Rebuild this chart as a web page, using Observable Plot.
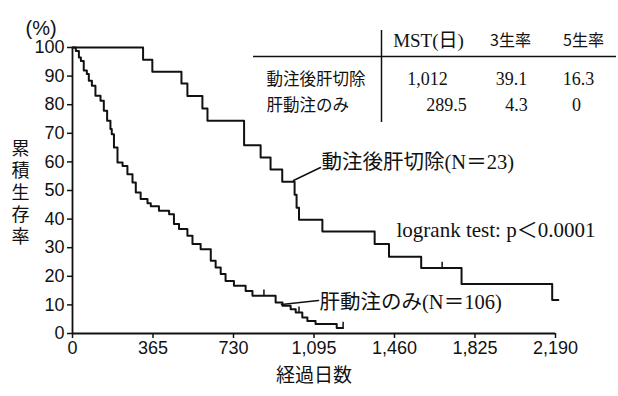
<!DOCTYPE html>
<html><head><meta charset="utf-8">
<script src="https://cdn.jsdelivr.net/npm/d3@7"></script>
<script src="https://cdn.jsdelivr.net/npm/@observablehq/plot@0.6"></script>
<style>body{margin:0;background:#fff}</style>
</head><body><div id="chart"></div>
<script>
// ---- data ----
const xTicks = [0, 365, 730, 1095, 1460, 1825, 2190];
const yTicks = [0, 10, 20, 30, 40, 50, 60, 70, 80, 90, 100];

// 動注後肝切除 (N=23)
const resDays = [0, 320, 362, 494, 521, 589, 612, 778, 853, 898, 951, 1007, 1016, 1027, 1133, 1370, 1435, 1581, 1764, 2175, 2203];
const resSurv = [100, 95.7, 91.5, 87.4, 83.0, 78.7, 74.4, 65.8, 61.5, 57.3, 53.1, 48.5, 44.0, 39.8, 35.7, 31.3, 26.8, 22.9, 17.3, 11.7, 11.7];
const resCensorDays = [1676];
const resCensorSurv = [22.9];

// 肝動注のみ (N=106)
const hepDays = [0, 15, 29, 38, 51, 65, 74, 88, 104, 127, 142, 157, 172, 178, 188, 204, 227, 249, 272, 287, 309, 340, 355, 392, 438, 460, 483, 521, 544, 581, 627, 649, 672, 694, 732, 785, 816, 921, 952, 989, 1012, 1042, 1065, 1102, 1198, 1227];
const hepSurv = [100, 98.8, 96.5, 95.3, 92.0, 90.7, 88.4, 86.6, 83.1, 81.4, 77.9, 74.4, 71.5, 69.7, 65.0, 59.8, 58.6, 55.7, 52.8, 49.3, 47.0, 45.5, 44.5, 42.9, 41.7, 38.3, 36.5, 34.2, 31.3, 29.5, 25.4, 23.1, 20.8, 18.4, 16.7, 14.9, 13.2, 10.8, 9.7, 8.5, 7.3, 5.6, 4.4, 3.3, 1.9, 1.9];
const hepCensorDays = [868, 1027, 1227];
const hepCensorSurv = [13.2, 7.3, 1.9];

// table
const tableHeaders = ["MST(日)", "3生率", "5生率"];
const tableGroups = ["動注後肝切除", "肝動注のみ"];
const tableMST = ["1,012", "289.5"];
const table3y = ["39.1", "4.3"];
const table5y = ["16.3", "0"];

const resLabel = "動注後肝切除(N＝23)";
const hepLabel = "肝動注のみ(N＝106)";
const testLabel = "logrank test: p＜0.0001";
const xLabel = "経過日数";
const yLabel = "累積生存率";
const unitLabel = "(%)";

// ---- layout helpers (pixel -> data for annotations) ----
const W = 618, H = 396, mL = 72, mR = 63, mT = 47, mB = 63;
const px2x = px => (px - mL) / (W - mR - mL) * 2190;
const px2y = py => (H - mB - py) / (H - mB - mT) * 100;

const res = resDays.map((d, i) => ({day: d, surv: resSurv[i]}));
const hep = hepDays.map((d, i) => ({day: d, surv: hepSurv[i]}));
const censors = [
  ...resCensorDays.map((d, i) => ({day: d, surv: resCensorSurv[i]})),
  ...hepCensorDays.map((d, i) => ({day: d, surv: hepCensorSurv[i]}))
];

const jp = "'Noto Sans CJK JP', sans-serif";
const serif = "'Liberation Serif', 'Noto Sans CJK JP', serif";
const num = "'Liberation Sans Narrow', 'Liberation Sans', sans-serif";

const rowY = [79, 105];
const headCells = tableHeaders.map((t, i) => ({t, px: [428, 510, 583][i], py: 40}));
const groupCells = tableGroups.map((t, i) => ({t, px: 266, py: rowY[i]}));
const numCells = [
  ...tableMST.map((t, i) => ({t, px: [427, 446][i], py: rowY[i]})),
  ...table3y.map((t, i) => ({t, px: [511, 516][i], py: rowY[i]})),
  ...table5y.map((t, i) => ({t, px: [578, 576][i], py: rowY[i]}))
];
const ink = "#111";

const chart = Plot.plot({
  width: W, height: H,
  marginLeft: mL, marginRight: mR, marginTop: mT, marginBottom: mB,
  x: {domain: [0, 2190]},
  y: {domain: [0, 100]},
  style: {fontFamily: num, color: ink, background: "#fff"},
  marks: [
    Plot.axisY({ticks: yTicks, tickSize: 5, tickPadding: 3, fontSize: 18, label: null, fontFamily: num, strokeWidth: 1.5}),
    Plot.axisX({ticks: xTicks, tickSize: 5, tickPadding: 3, fontSize: 18, label: null, fontFamily: num, tickFormat: d3.format(","), strokeWidth: 1.5}),
    Plot.ruleX([0], {stroke: ink, strokeWidth: 1.8}),
    Plot.ruleY([0], {stroke: ink, strokeWidth: 1.8}),
    Plot.line(res, {x: "day", y: "surv", curve: "step-after", stroke: ink, strokeWidth: 2}),
    Plot.line(hep, {x: "day", y: "surv", curve: "step-after", stroke: ink, strokeWidth: 2}),
    Plot.ruleX(censors, {x: "day", y1: "surv", y2: d => d.surv + 2, stroke: ink, strokeWidth: 1.5}),
    // leader lines
    Plot.line([{x: px2x(293), y: px2y(180)}, {x: px2x(320), y: px2y(167)}], {x: "x", y: "y", stroke: ink, strokeWidth: 1.5}),
    Plot.line([{x: px2x(281), y: px2y(304)}, {x: px2x(318), y: px2y(300)}], {x: "x", y: "y", stroke: ink, strokeWidth: 1.5}),
    // table rules
    Plot.ruleY([px2y(56)], {x1: px2x(253), x2: px2x(616), stroke: ink, strokeWidth: 1.5}),
    Plot.ruleX([px2x(381)], {y1: px2y(30), y2: px2y(122), stroke: ink, strokeWidth: 1.5}),
    // table text
    Plot.text(headCells.slice(0, 1), {x: d => px2x(d.px), y: d => px2y(d.py), text: "t", fontSize: 19, fontFamily: serif, fill: ink}),
    Plot.text(headCells.slice(1), {x: d => px2x(d.px), y: d => px2y(d.py), text: "t", fontSize: 16, fontFamily: jp, fill: ink}),
    Plot.text(groupCells, {x: d => px2x(d.px), y: d => px2y(d.py), text: "t", textAnchor: "start", fontSize: 16.5, fontFamily: jp, fill: ink}),
    Plot.text(numCells, {x: d => px2x(d.px), y: d => px2y(d.py), text: "t", fontSize: 18, fontFamily: serif, fill: ink}),
    // labels
    Plot.text([resLabel], {x: px2x(321), y: px2y(162), textAnchor: "start", fontSize: 20.5, fontFamily: serif, fill: ink}),
    Plot.text([hepLabel], {x: px2x(319), y: px2y(302), textAnchor: "start", fontSize: 20.5, fontFamily: serif, fill: ink}),
    Plot.text([testLabel], {x: px2x(396), y: px2y(230), textAnchor: "start", fontSize: 21, fontFamily: serif, fill: ink}),
    Plot.text([xLabel], {frameAnchor: "bottom", dy: 48, fontSize: 19, fontFamily: jp, fill: ink}),
    Plot.text([yLabel], {x: px2x(20), y: px2y(188), fontSize: 18, fontFamily: jp, fill: ink,
      render(index, scales, values, dims, context, next) {
        const g = next(index, scales, values, dims, context);
        g.querySelectorAll("text").forEach(t => {
          t.setAttribute("style", "writing-mode: vertical-rl; text-orientation: upright; letter-spacing: 4px");
          t.setAttribute("dy", "0");
        });
        return g;
      }}),
    Plot.text([unitLabel], {frameAnchor: "top-left", dx: -47, dy: -27, fontSize: 20, fontFamily: num, fill: ink})
  ]
});
document.getElementById("chart").appendChild(chart);
</script>
</body></html>
